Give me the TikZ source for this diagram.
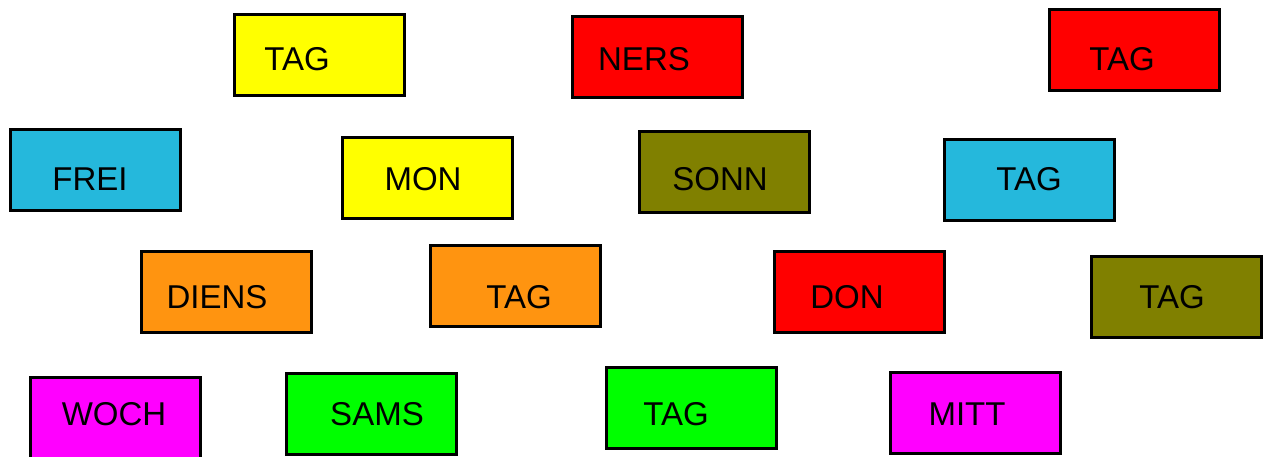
\documentclass[tikz,border=0pt]{standalone}
\usepackage{fontspec}
\setmainfont{Liberation Sans}
\usepackage{tikz}
\usetikzlibrary{positioning}
\definecolor{daycyan}{RGB}{37,184,220}
\definecolor{dayolive}{RGB}{128,128,0}
\definecolor{dayorange}{RGB}{255,148,16}
\definecolor{dayyellow}{RGB}{255,255,0}
\definecolor{dayred}{RGB}{255,0,0}
\definecolor{daygreen}{RGB}{0,255,0}
\definecolor{daymagenta}{RGB}{255,0,255}
\tikzset{
  daybox/.style={draw=black, line width=3pt, rectangle, inner sep=0pt,
    minimum width=170pt, minimum height=81pt},
  dayword/.style={anchor=base, inner sep=0pt, font=\fontsize{33}{40}\selectfont}
}

\begin{document}
\begin{tikzpicture}[x=1pt,y=-1pt]
    \useasboundingbox (0,0) rectangle (1268,456);
    % boxes
    \node[daybox, fill=dayyellow] (tagA) at (319,54.5) {};
    \node[daybox, fill=dayred] (ners) at (657,56.5) {};
    \node[daybox, fill=dayred] (tagB) at (1134,49.5) {};
    \node[daybox, fill=daycyan] (frei) at (95,169.5) {};
    \node[daybox, fill=dayyellow] (mon) at (427,177.5) {};
    \node[daybox, fill=dayolive] (sonn) at (724.5,171.5) {};
    \node[daybox, fill=daycyan] (tagC) at (1029.5,180) {};
    \node[daybox, fill=dayorange] (diens) at (226,292) {};
    \node[daybox, fill=dayorange] (tagD) at (515.5,285.5) {};
    \node[daybox, fill=dayred] (don) at (859,292) {};
    \node[daybox, fill=dayolive] (tagE) at (1176.5,296.5) {};
    \node[daybox, fill=daymagenta] (woch) at (115,417.5) {};
    \node[daybox, fill=daygreen] (sams) at (371,414) {};
    \node[daybox, fill=daygreen] (tagF) at (691,407.5) {};
    \node[daybox, fill=daymagenta] (mitt) at (975,412.5) {};
    % words
    \path (297,70) node[dayword] (tagAw) {TAG}
    (644,70) node[dayword] (nersw) {NERS}
    (1122,70) node[dayword] (tagBw) {TAG};
    \path (90,190) node[dayword] (freiw) {FREI}
    (423,190) node[dayword] (monw) {MON}
    (720,190) node[dayword] (sonnw) {SONN}
    (1029,190) node[dayword] (tagCw) {TAG};
    \path (217,308) node[dayword] (diensw) {DIENS}
    (519,308) node[dayword] (tagDw) {TAG}
    (847,308) node[dayword] (donw) {DON}
    (1172,308) node[dayword] (tagEw) {TAG};
    \path (114,425) node[dayword] (wochw) {WOCH}
    (377,425) node[dayword] (samsw) {SAMS}
    (676,425) node[dayword] (tagFw) {TAG}
    (967,425) node[dayword] (mittw) {MITT};
\end{tikzpicture}
\end{document}
